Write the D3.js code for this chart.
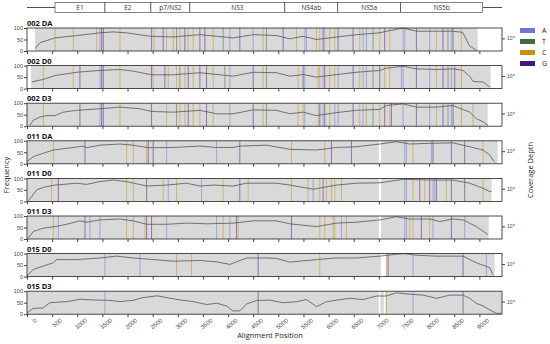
<!DOCTYPE html>
<html>
<head>
<meta charset="utf-8">
<script src="https://cdn.jsdelivr.net/npm/d3@7"></script>
<style>
  body { margin: 0; background: #fff; }
  svg { display: block; font-family: "Open Sans", sans-serif; }
</style>
</head>
<body>
<div id="chart"></div>
<script>
// sample panels, top to bottom
const samples = ['002 DA', '002 D0', '002 D3', '011 DA', '011 D0', '011 D3', '015 D0', '015 D3']
const xTicks = d3.range(0, 9001, 500)
const freqTicks = [0, 50, 100]
const nucleotides = ['A', 'T', 'C', 'G']
const nucColors = ['#6f74d8', '#3f6b3f', '#c8900f', '#4a1486']
const genes = ['E1', 'E2', 'p7/NS2', 'NS3', 'NS4ab', 'NS5a', 'NS5b']
const geneStarts = [557, 1551, 2465, 3240, 5129, 6183, 7435]
const geneEnd = 9066

// covered stretches of the alignment (grey background)
const covRanges = [
  [[160, 8966]],
  [[80, 9224]],
  [[0, 9165]],
  [[0, 7000], [7040, 9364]],
  [[0, 7000], [7040, 9244]],
  [[0, 7000], [7040, 9185]],
  [[0, 7040], [7150, 9304]],
  [[0, 7000], [7030, 7100], [7130, 9443]]
]

// coverage depth profile, [position, relative height 0-100]
const cov002DA = [[160, 10], [258, 36], [557, 57], [988, 67], [1451, 79], [1712, 83], [1982, 79], [2445, 64], [2905, 61], [3439, 71], [4102, 57], [4500, 71], [4964, 67], [5229, 53], [5487, 64], [5765, 50], [6163, 61], [6561, 71], [7018, 79], [7157, 86], [7475, 100], [7753, 86], [8151, 86], [8469, 86], [8668, 81], [8807, 21], [8946, 4]]
const cov002D0 = [[93, 29], [325, 40], [557, 57], [987, 71], [1451, 79], [1849, 83], [2114, 76], [2478, 60], [2909, 60], [3439, 69], [4102, 54], [4500, 71], [4963, 69], [5229, 54], [5494, 61], [5759, 50], [6156, 61], [6554, 71], [7018, 79], [7150, 89], [7482, 97], [7747, 86], [8145, 83], [8476, 86], [8675, 79], [8807, 54], [8873, 31], [9072, 29], [9205, 7]]
const cov002D3 = [[59, 4], [126, 26], [258, 40], [391, 46], [557, 46], [722, 61], [987, 69], [1451, 76], [1849, 83], [2246, 76], [2478, 64], [2909, 61], [3439, 69], [3771, 54], [4102, 54], [4500, 71], [4963, 69], [5229, 54], [5494, 61], [5759, 46], [6156, 59], [6554, 69], [7018, 73], [7150, 90], [7482, 97], [7747, 83], [8145, 83], [8476, 90], [8807, 61], [8940, 33], [9072, 19], [9172, 4]]
const cov011DA = [[0, 10], [126, 31], [325, 46], [523, 60], [788, 67], [1120, 77], [1186, 70], [1451, 81], [1849, 86], [2114, 81], [2379, 71], [2511, 70], [2909, 71], [3439, 77], [3771, 71], [4102, 71], [4234, 77], [4765, 81], [5229, 63], [5759, 60], [6156, 71], [6554, 74], [7018, 86], [7349, 96], [7614, 86], [8012, 89], [8476, 91], [8807, 74], [9072, 60], [9205, 39], [9304, 6]]
const cov011D0 = [[26, 3], [93, 21], [192, 50], [325, 61], [557, 71], [987, 79], [1186, 74], [1451, 86], [1716, 93], [1981, 86], [2379, 67], [2777, 71], [3174, 79], [3439, 67], [3704, 71], [4102, 67], [4367, 79], [4963, 79], [5229, 71], [5693, 53], [6156, 71], [6554, 79], [7018, 81], [7482, 96], [8012, 93], [8476, 93], [8807, 79], [9072, 57], [9205, 43], [9238, 43]]
const cov011D3 = [[26, 4], [126, 33], [325, 47], [557, 54], [788, 64], [1053, 79], [1186, 73], [1451, 83], [1849, 87], [2114, 79], [2379, 64], [2777, 64], [3174, 69], [3572, 66], [4102, 69], [4500, 79], [4963, 79], [5229, 66], [5759, 54], [6156, 69], [6554, 73], [7018, 83], [7349, 97], [7614, 87], [8012, 87], [8211, 76], [8476, 87], [8675, 83], [8940, 54], [9172, 19]]
const cov015D0 = [[0, 3], [126, 31], [325, 46], [523, 60], [590, 74], [987, 74], [1451, 81], [1782, 89], [2114, 81], [2511, 74], [2909, 67], [3439, 70], [3771, 64], [4036, 53], [4367, 81], [4765, 81], [4963, 79], [5229, 63], [5759, 74], [6156, 81], [6554, 81], [7018, 89], [7482, 100], [7747, 93], [8145, 89], [8675, 89], [8940, 60], [9205, 39], [9271, 7]]
const cov015D3 = [[0, 5], [120, 25], [318, 27], [457, 50], [795, 55], [1054, 65], [1312, 62], [1650, 60], [1849, 55], [2107, 60], [2306, 72], [2584, 80], [2783, 72], [3042, 62], [3300, 55], [3578, 42], [3777, 48], [3976, 35], [4095, 14], [4234, 15], [4374, 45], [4573, 60], [4831, 61], [5096, 50], [5361, 54], [5560, 64], [5759, 33], [5958, 54], [6156, 61], [6421, 69], [6687, 64], [6952, 79], [7150, 79], [7349, 93], [7614, 87], [7880, 83], [8145, 69], [8410, 83], [8675, 83], [8807, 69], [8940, 47], [9072, 36], [9205, 19], [9337, 4], [9436, 4]]
const coverage = [cov002DA, cov002D0, cov002D3, cov011DA, cov011D0, cov011D3, cov015D0, cov015D3]

// variant sites, [position, nucleotide]
const var002DA = [[557, 'C'], [921, 'C'], [1385, 'C'], [1451, 'A'], [1485, 'G'], [1518, 'G'], [1849, 'C'], [2479, 'G'], [2525, 'C'], [2710, 'G'], [2777, 'C'], [2909, 'C'], [2975, 'T'], [3042, 'C'], [3141, 'G'], [3207, 'C'], [3307, 'C'], [3439, 'G'], [3539, 'G'], [3704, 'C'], [3903, 'T'], [4036, 'A'], [4234, 'G'], [4499, 'A'], [4698, 'C'], [4764, 'T'], [5096, 'G'], [5361, 'C'], [5527, 'A'], [5560, 'A'], [5759, 'C'], [5825, 'C'], [5891, 'G'], [5925, 'A'], [6024, 'C'], [6123, 'C'], [6189, 'G'], [6487, 'G'], [6620, 'C'], [6686, 'A'], [6753, 'A'], [6885, 'T'], [7018, 'C'], [7117, 'G'], [7217, 'C'], [7481, 'A'], [7515, 'A'], [7747, 'G'], [8012, 'A'], [8145, 'C'], [8276, 'G'], [8375, 'T'], [8442, 'A'], [8475, 'G'], [8641, 'C']]
const var002D0 = [[325, 'C'], [921, 'C'], [1053, 'G'], [1451, 'A'], [1484, 'G'], [1517, 'G'], [1849, 'C'], [2478, 'G'], [2511, 'C'], [2743, 'G'], [2810, 'C'], [2975, 'C'], [3042, 'T'], [3141, 'C'], [3207, 'G'], [3307, 'C'], [3439, 'G'], [3572, 'G'], [3704, 'C'], [3936, 'T'], [4036, 'A'], [4500, 'G'], [4698, 'C'], [4765, 'T'], [5394, 'C'], [5494, 'G'], [5527, 'A'], [5792, 'C'], [5825, 'C'], [5891, 'A'], [5924, 'G'], [6024, 'C'], [6123, 'C'], [6190, 'A'], [6488, 'G'], [6620, 'C'], [6687, 'A'], [6753, 'A'], [6885, 'T'], [7018, 'G'], [7117, 'C'], [7217, 'C'], [7449, 'A'], [7482, 'A'], [7747, 'G'], [8012, 'A'], [8145, 'C'], [8277, 'G'], [8376, 'T'], [8443, 'A'], [8509, 'G'], [8642, 'C']]
const var002D3 = [[325, 'C'], [1053, 'G'], [1451, 'A'], [1484, 'G'], [1517, 'G'], [1849, 'C'], [2478, 'G'], [2777, 'C'], [2975, 'T'], [3042, 'C'], [3141, 'C'], [3207, 'G'], [3307, 'C'], [3439, 'C'], [3572, 'G'], [3704, 'C'], [4036, 'A'], [4500, 'G'], [4698, 'C'], [4765, 'T'], [5394, 'C'], [5494, 'C'], [5527, 'A'], [5792, 'C'], [5825, 'G'], [5891, 'A'], [5924, 'G'], [6024, 'C'], [6123, 'A'], [6190, 'A'], [6488, 'G'], [6620, 'C'], [6687, 'A'], [6753, 'C'], [6885, 'T'], [7018, 'C'], [7117, 'G'], [7217, 'C'], [7250, 'G'], [7482, 'A'], [7747, 'G'], [8012, 'A'], [8145, 'C'], [8277, 'G'], [8376, 'T'], [8443, 'A'], [8476, 'G'], [8642, 'C'], [8873, 'C']]
const var011DA = [[523, 'C'], [1153, 'G'], [1981, 'C'], [2114, 'C'], [2379, 'C'], [2412, 'G'], [2511, 'G'], [2777, 'A'], [3771, 'A'], [4234, 'G'], [5262, 'C'], [5924, 'C'], [6057, 'G'], [6455, 'G'], [7515, 'A'], [7548, 'A'], [7681, 'C'], [8045, 'A'], [8078, 'G'], [8443, 'G'], [8708, 'G'], [9072, 'C']]
const var011D0 = [[490, 'C'], [623, 'G'], [1981, 'C'], [2114, 'C'], [2379, 'G'], [2710, 'C'], [2810, 'A'], [2975, 'C'], [3472, 'A'], [3903, 'C'], [4234, 'G'], [4400, 'C'], [5262, 'C'], [5593, 'C'], [5693, 'A'], [5825, 'C'], [5891, 'G'], [5958, 'C'], [6057, 'C'], [6123, 'C'], [6256, 'C'], [7515, 'A'], [7548, 'A'], [7681, 'C'], [7813, 'G'], [7913, 'C'], [8012, 'G'], [8078, 'A'], [8111, 'A'], [8145, 'G'], [8343, 'C'], [8443, 'G'], [8708, 'G'], [9072, 'C']]
const var011D3 = [[523, 'C'], [623, 'A'], [1153, 'G'], [1252, 'A'], [1451, 'A'], [1981, 'C'], [2114, 'C'], [2346, 'C'], [2379, 'G'], [2478, 'G'], [2777, 'A'], [3771, 'A'], [3903, 'C'], [4036, 'A'], [4168, 'G'], [4201, 'C'], [5262, 'G'], [5825, 'C'], [5924, 'C'], [6090, 'C'], [6123, 'C'], [6256, 'A'], [6355, 'C'], [7515, 'A'], [7548, 'A'], [7614, 'C'], [7681, 'C'], [7846, 'G'], [8012, 'C'], [8078, 'A'], [8443, 'G'], [8708, 'A']]
const var015D0 = [[1550, 'A'], [2246, 'A'], [2975, 'C'], [3273, 'C'], [4599, 'G'], [5825, 'C'], [7151, 'C'], [7184, 'G'], [7681, 'A'], [8675, 'G'], [9139, 'A']]
const var015D3 = [[1550, 'A'], [4599, 'G'], [7151, 'C'], [7681, 'A'], [8675, 'G']]
const variants = [var002DA, var002D0, var002D3, var011DA, var011D0, var011D3, var015D0, var015D3]

const width = 550
const height = 344
const panelTop = 28
const panelStep = 37.6
const panelH = 23

const svg = d3.select('#chart').append('svg')
  .attr('width', width)
  .attr('height', height)

const x = d3.scaleLinear().domain([0, 9450]).range([27, 502])
const y = d3.scaleLinear().domain([0, 100]).range([panelH, 0])
// coverage depth axis on the right (log)
const yDepth = d3.scaleLog().domain([Math.pow(10, -2.2), Math.pow(10, 1.8)]).range([panelH, 0])
const color = d3.scaleOrdinal().domain(nucleotides).range(nucColors)

// gene map on top
const geneG = svg.append('g')
geneG.append('line')
  .attr('x1', x(0)).attr('x2', x(geneStarts[0]))
  .attr('y1', 7.5).attr('y2', 7.5)
  .attr('stroke', '#222').attr('stroke-width', 0.8)
geneG.append('line')
  .attr('x1', x(geneEnd)).attr('x2', x(9450))
  .attr('y1', 7.5).attr('y2', 7.5)
  .attr('stroke', '#222').attr('stroke-width', 0.8)
genes.forEach((name, i) => {
  const x0 = x(geneStarts[i])
  const x1 = x(i < genes.length - 1 ? geneStarts[i + 1] : geneEnd)
  geneG.append('rect')
    .attr('x', x0).attr('y', 2.5)
    .attr('width', x1 - x0).attr('height', 10)
    .attr('fill', '#fff')
    .attr('stroke', '#333').attr('stroke-width', 0.6)
  geneG.append('text')
    .attr('x', (x0 + x1) / 2).attr('y', 10.3)
    .attr('text-anchor', 'middle')
    .attr('font-size', 6.5)
    .attr('fill', '#333')
    .text(name)
})

const line = d3.line()
  .x(d => x(d[0]))
  .y(d => y(d[1]))

samples.forEach((name, i) => {
  const g = svg.append('g').attr('transform', `translate(0,${panelTop + i * panelStep})`)

  // covered region
  g.selectAll('rect.cov')
    .data(covRanges[i])
    .join('rect')
    .attr('class', 'cov')
    .attr('x', d => x(d[0]))
    .attr('y', 0)
    .attr('width', d => x(d[1]) - x(d[0]))
    .attr('height', panelH)
    .attr('fill', '#d9d9d9')

  // variant sites
  g.selectAll('line.var')
    .data(variants[i])
    .join('line')
    .attr('class', 'var')
    .attr('x1', d => x(d[0])).attr('x2', d => x(d[0]))
    .attr('y1', 0).attr('y2', panelH)
    .attr('stroke', d => color(d[1]))
    .attr('stroke-width', 0.8)
    .attr('stroke-opacity', 0.65)

  // coverage depth
  g.append('path')
    .datum(coverage[i])
    .attr('d', line)
    .attr('fill', 'none')
    .attr('stroke', '#555')
    .attr('stroke-width', 0.8)

  // frame
  g.append('rect')
    .attr('x', x(0)).attr('y', 0)
    .attr('width', x(9450) - x(0)).attr('height', panelH)
    .attr('fill', 'none')
    .attr('stroke', '#222').attr('stroke-width', 0.8)

  // left axis
  const left = g.append('g')
    .attr('transform', `translate(${x(0)},0)`)
    .call(d3.axisLeft(y).tickValues(freqTicks).tickSize(3).tickPadding(1))
  left.select('.domain').remove()
  left.selectAll('text').attr('font-size', 5.5).attr('fill', '#444')
  left.selectAll('line').attr('stroke', '#444')

  // right axis
  const right = g.append('g')
    .attr('transform', `translate(${x(9450)},0)`)
    .call(d3.axisRight(yDepth).tickValues([1]).tickFormat(() => '10⁰').tickSize(3).tickPadding(2))
  right.select('.domain').remove()
  right.selectAll('text').attr('font-size', 5).attr('fill', '#444')
  right.selectAll('line').attr('stroke', '#444')

  // bottom axis
  const last = i === samples.length - 1
  const bottom = g.append('g')
    .attr('transform', `translate(0,${panelH})`)
    .call(d3.axisBottom(x).tickValues(xTicks).tickSize(3)
      .tickFormat(last ? d3.format('d') : ''))
  bottom.select('.domain').remove()
  bottom.selectAll('line').attr('stroke', '#444')
  bottom.selectAll('text')
    .attr('font-size', 6)
    .attr('fill', '#444')
    .style('text-anchor', 'end')
    .attr('dx', '0.5em')
    .attr('dy', '0.9em')
    .attr('transform', 'rotate(-40)')

  // title
  g.append('text')
    .attr('x', x(0)).attr('y', -2)
    .attr('font-size', 7.5)
    .attr('font-weight', 'bold')
    .attr('fill', '#111')
    .text(name)
})

// legend
const legend = svg.append('g').attr('transform', 'translate(520,28)')
nucleotides.forEach((n, i) => {
  legend.append('rect')
    .attr('x', 0).attr('y', i * 11)
    .attr('width', 15).attr('height', 5)
    .attr('fill', color(n))
  legend.append('text')
    .attr('x', 22).attr('y', i * 11 + 5)
    .attr('font-size', 7)
    .attr('fill', '#222')
    .text(n)
})

// axis titles
svg.append('text')
  .attr('x', 270).attr('y', 338)
  .attr('text-anchor', 'middle')
  .attr('font-size', 7.5)
  .attr('fill', '#222')
  .text('Alignment Position')

svg.append('text')
  .attr('transform', 'translate(9,175) rotate(-90)')
  .attr('text-anchor', 'middle')
  .attr('font-size', 7.5)
  .attr('fill', '#222')
  .text('Frequency')

svg.append('text')
  .attr('transform', 'translate(533,170) rotate(-90)')
  .attr('text-anchor', 'middle')
  .attr('font-size', 7.5)
  .attr('fill', '#222')
  .text('Coverage Depth')
</script>
</body>
</html>
